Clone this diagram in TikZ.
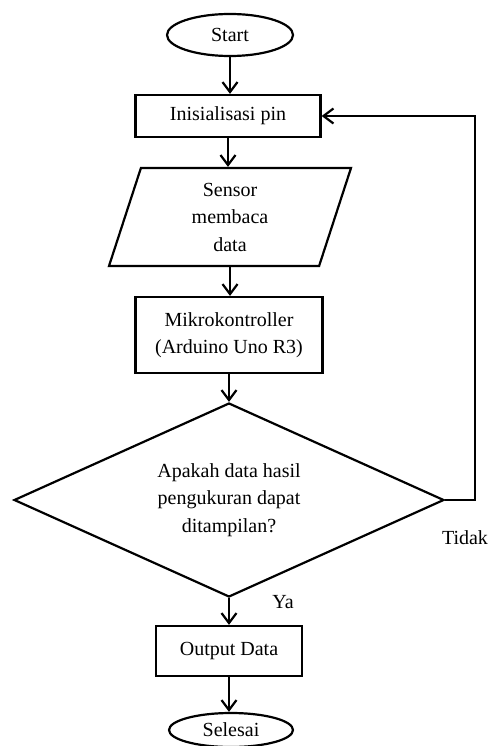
\documentclass[tikz,border=0pt]{standalone}
\usepackage{fontspec}
\setmainfont{Liberation Serif}
\usetikzlibrary{shapes.geometric,arrows.meta}
\begin{document}
\begin{tikzpicture}[x=1pt,y=1pt,
  base/.style={draw=black,line width=2.2pt,inner sep=0pt,align=center,font=\fontsize{20}{27.5}\selectfont},
  termbox/.style={base,ellipse},
  procbox/.style={base,rectangle},
  iobox/.style={base,trapezium,trapezium left angle=65,trapezium right angle=115,trapezium stretches body},
  decbox/.style={base,diamond,shape aspect=2.2},
  lbl/.style={font=\fontsize{20}{24}\selectfont,inner sep=0pt},
  flow/.style={line width=2.2pt,-{Straight Barb[length=10pt,width=15pt,line width=2.2pt]}}]
\useasboundingbox (0,0) rectangle (490,-746);
\node[termbox,minimum width=126,minimum height=42] (start) at (230,-35) {Start};
\node[procbox,minimum width=185,minimum height=42] (init) at (228,-116) {Inisialisasi pin};
\node[iobox,minimum width=242,minimum height=98] (sensor) at (230,-217) {Sensor\\membaca\\data};
\node[procbox,minimum width=187,minimum height=76] (mikro) at (229,-335) {Mikrokontroller\\(Arduino Uno R3)};
\node[decbox,minimum width=430,minimum height=194] (dec) at (229,-500) {Apakah data hasil\\pengukuran dapat\\ditampilan?};
\node[procbox,minimum width=146,minimum height=50] (out) at (229,-651) {Output Data};
\node[termbox,minimum width=124,minimum height=34] (end) at (231,-730) {Selesai};
\coordinate (loop) at (475,-500);
\node[lbl] (tidak) at (465,-538) {Tidak};
\node[lbl] (ya) at (283,-602) {Ya};
\draw[flow] (start.south) -- (start.south |- init.north);
\draw[flow] (init.south) -- (init.south |- sensor.north);
\draw[flow] (sensor.south) -- (sensor.south |- mikro.north);
\draw[flow] (mikro.south) -- (mikro.south |- dec.north);
\draw[flow] (dec.south) -- (dec.south |- out.north);
\draw[flow] (out.south) -- (out.south |- end.north);
\draw[flow] (dec.east) -- (loop) |- (init.east);
\end{tikzpicture}
\end{document}
